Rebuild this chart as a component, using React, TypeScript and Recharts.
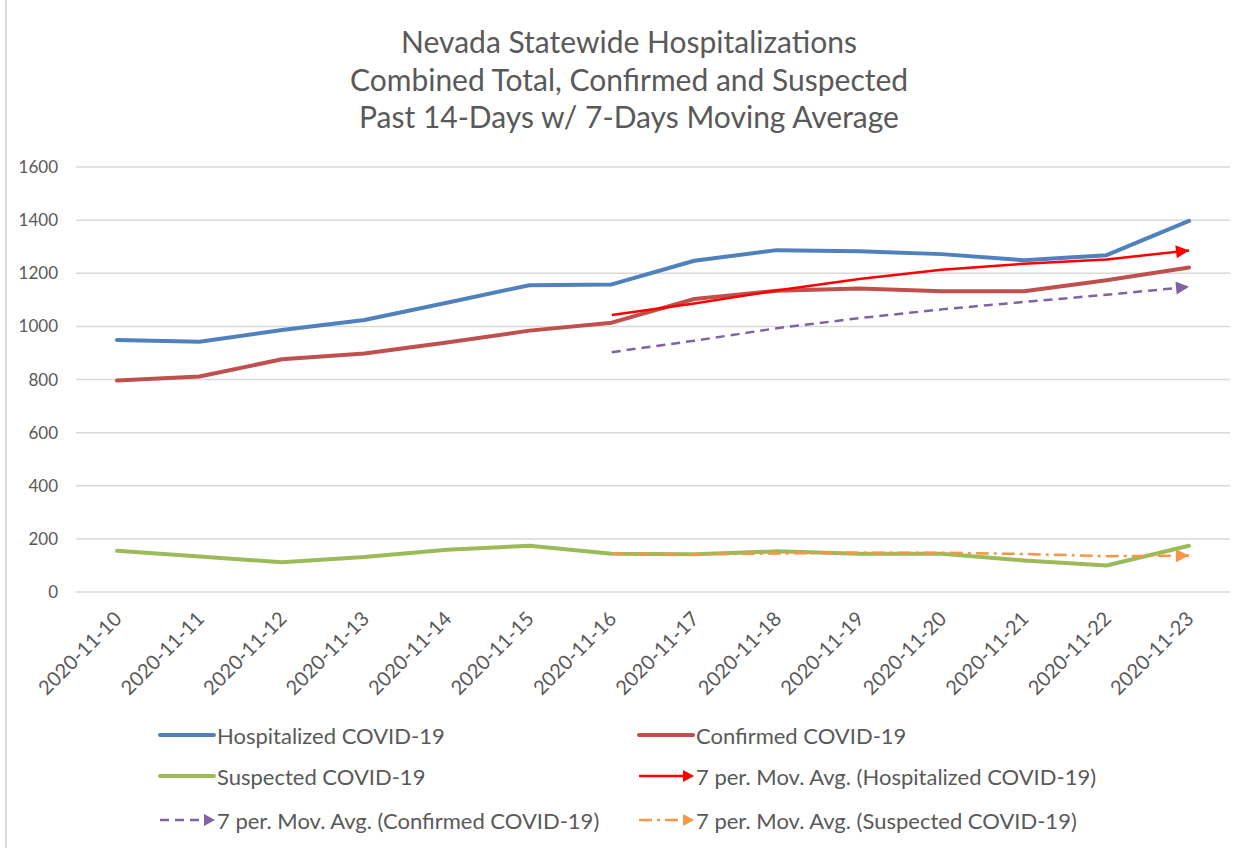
import { CartesianGrid, Line, LineChart, XAxis, YAxis } from "recharts";

const DATES = [
  "2020-11-10", "2020-11-11", "2020-11-12", "2020-11-13", "2020-11-14", "2020-11-15", "2020-11-16",
  "2020-11-17", "2020-11-18", "2020-11-19", "2020-11-20", "2020-11-21", "2020-11-22", "2020-11-23",
];
const HOSPITALIZED = [949, 942, 986, 1024, 1089, 1155, 1158, 1247, 1287, 1283, 1272, 1249, 1268, 1397];
const CONFIRMED = [796, 811, 876, 898, 939, 984, 1014, 1103, 1134, 1143, 1132, 1132, 1174, 1222];
const SUSPECTED = [155, 134, 112, 132, 159, 174, 144, 142, 153, 144, 144, 119, 100, 174];
const MA_HOSPITALIZED = [null, null, null, null, null, null, 1043, 1086, 1135, 1178, 1213, 1236, 1252, 1286];
const MA_CONFIRMED = [null, null, null, null, null, null, 903, 946, 993, 1031, 1064, 1092, 1119, 1149];
const MA_SUSPECTED = [null, null, null, null, null, null, 144, 142, 145, 148, 148, 143, 135, 137];
const Y_TICKS = [0, 200, 400, 600, 800, 1000, 1200, 1400, 1600];

const TITLE = [
  "Nevada Statewide Hospitalizations",
  "Combined Total, Confirmed and Suspected",
  "Past 14-Days w/ 7-Days Moving Average",
];

const FONT = "Lato, 'Open Sans', sans-serif";
const TEXT = "#595959";

const data = DATES.map((date, i) => ({
  date,
  hospitalized: HOSPITALIZED[i],
  confirmed: CONFIRMED[i],
  suspected: SUSPECTED[i],
  maHospitalized: MA_HOSPITALIZED[i],
  maConfirmed: MA_CONFIRMED[i],
  maSuspected: MA_SUSPECTED[i],
}));

const SERIES = [
  { key: "hospitalized", name: "Hospitalized COVID-19", color: "#4f81bd", width: 4, dash: undefined, arrow: false },
  { key: "confirmed", name: "Confirmed COVID-19", color: "#c0504d", width: 4, dash: undefined, arrow: false },
  { key: "suspected", name: "Suspected COVID-19", color: "#9bbb59", width: 4, dash: undefined, arrow: false },
  { key: "maHospitalized", name: "7 per. Mov. Avg. (Hospitalized COVID-19)", color: "#ff0000", width: 2.5, dash: undefined, arrow: true },
  { key: "maConfirmed", name: "7 per. Mov. Avg. (Confirmed COVID-19)", color: "#8064a2", width: 2.5, dash: "9 6", arrow: true },
  { key: "maSuspected", name: "7 per. Mov. Avg. (Suspected COVID-19)", color: "#f79646", width: 2.5, dash: "13 5 3 5", arrow: true },
];

// arrowhead on the last point of the moving average lines
function arrowDot(color: string) {
  return (props: any) => {
    const { cx, cy, index, points } = props;
    if (index !== DATES.length - 1 || cx == null || cy == null) return <g key={index} />;
    let angle = 0;
    const prev = points?.[index - 1];
    if (prev && prev.y != null) angle = (Math.atan2(cy - prev.y, cx - prev.x) * 180) / Math.PI;
    return (
      <polygon
        key={index}
        points={`${cx},${cy} ${cx - 13},${cy - 6.5} ${cx - 13},${cy + 6.5}`}
        fill={color}
        transform={`rotate(${angle} ${cx} ${cy})`}
      />
    );
  };
}

const DateTick = (props: any) => {
  const { x, y, payload } = props;
  const ax = x + 6;
  const ay = y + 28;
  return (
    <text x={ax} y={ay} transform={`rotate(-45 ${ax} ${ay})`} textAnchor="end" fontSize={20} fill={TEXT} fontFamily={FONT}>
      {payload.value}
    </text>
  );
};

function LegendItem({ s, left, top }: { s: (typeof SERIES)[number]; left: number; top: number }) {
  return (
    <div style={{ position: "absolute", left, top: top - 15, height: 30, display: "flex", alignItems: "center", whiteSpace: "nowrap" }}>
      <svg width={58} height={16} style={{ display: "block" }}>
        <line
          x1={2}
          y1={8}
          x2={s.arrow ? 48 : 56}
          y2={8}
          stroke={s.color}
          strokeWidth={s.width}
          strokeDasharray={s.dash}
          strokeLinecap={s.arrow ? "butt" : "round"}
        />
        {s.arrow && <polygon points="57,8 46,2 46,14" fill={s.color} />}
      </svg>
      <span style={{ fontFamily: FONT, fontSize: 22, color: TEXT, marginLeft: 1 }}>{s.name}</span>
    </div>
  );
}

export default function App() {
  const legendPos = [
    { left: 158, top: 735 },
    { left: 637, top: 735 },
    { left: 158, top: 776 },
    { left: 637, top: 776 },
    { left: 158, top: 820 },
    { left: 637, top: 820 },
  ];

  return (
    <div style={{ position: "absolute", left: 0, top: 0, width: 1249, height: 848, background: "#fff", overflow: "hidden" }}>
      <div style={{ position: "absolute", left: 5, top: 0, width: 2, height: 848, background: "#d9d9d9" }} />
      <div style={{ position: "absolute", left: 0, top: 23, width: 1258, textAlign: "center", fontFamily: FONT, fontSize: 30, lineHeight: "37.5px", color: TEXT }}>
        {TITLE.map((t) => (
          <div key={t}>{t}</div>
        ))}
      </div>
      <LineChart width={1249} height={848} data={data} margin={{ top: 167, right: 19, bottom: 226, left: 0 }}>
        <CartesianGrid vertical={false} stroke="#d9d9d9" strokeWidth={1.5} />
        <XAxis
          dataKey="date"
          height={30}
          interval={0}
          padding={{ left: 41, right: 41 }}
          axisLine={false}
          tickLine={false}
          tickSize={0}
          tickMargin={0}
          tick={<DateTick />}
        />
        <YAxis
          width={76}
          domain={[0, 1600]}
          ticks={Y_TICKS}
          axisLine={false}
          tickLine={false}
          tickSize={0}
          tickMargin={18}
          tick={{ fontSize: 17, fill: TEXT, fontFamily: FONT }}
        />
        {SERIES.map((s) => (
          <Line
            key={s.key}
            type="linear"
            dataKey={s.key}
            name={s.name}
            stroke={s.color}
            strokeWidth={s.width}
            strokeDasharray={s.dash}
            strokeLinecap={s.arrow ? "butt" : "round"}
            strokeLinejoin="round"
            dot={s.arrow ? arrowDot(s.color) : false}
            activeDot={false}
            connectNulls={false}
            isAnimationActive={false}
          />
        ))}
      </LineChart>
      {SERIES.map((s, i) => (
        <LegendItem key={s.key} s={s} left={legendPos[i].left} top={legendPos[i].top} />
      ))}
    </div>
  );
}
